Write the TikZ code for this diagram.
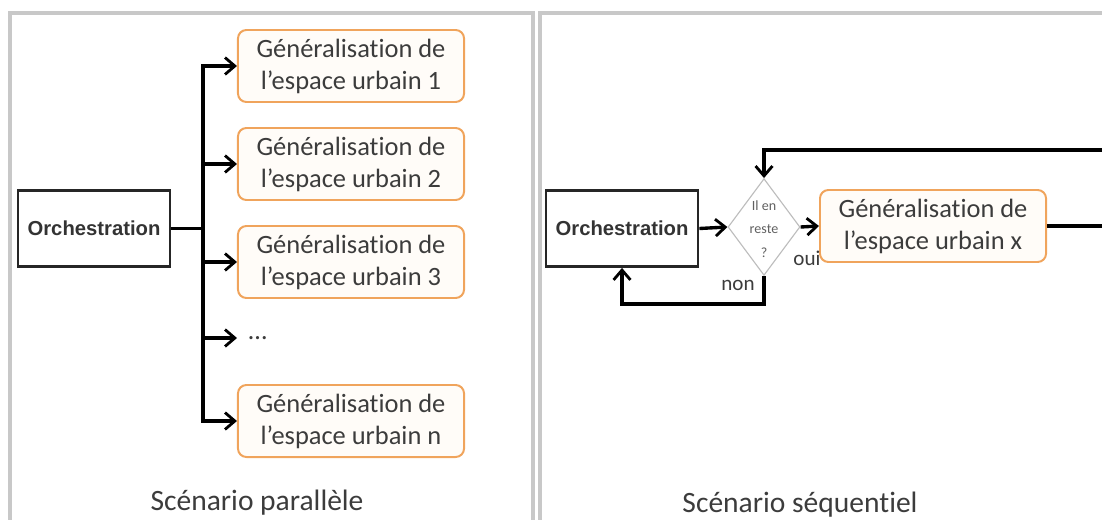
\documentclass[tikz,border=0pt]{standalone}
\usepackage{fontspec}
\setmainfont{Carlito}[Ligatures=NoCommon]
\newfontfamily\arialfont{Liberation Sans}
\usetikzlibrary{arrows.meta,shapes.geometric}

\definecolor{panelgrey}{HTML}{C8C8C8}
\definecolor{boxorange}{HTML}{F0A45C}
\definecolor{boxfill}{HTML}{FFFCF8}
\definecolor{textgrey}{HTML}{3C3C3C}
\definecolor{diagrey}{HTML}{BDBDBD}

\begin{document}
\begin{tikzpicture}[x=0.025cm, y=-0.025cm,
    panel/.style={draw=panelgrey, line width=2.4pt},
    orchbox/.style={draw=black!85, line width=2pt, minimum width=3.8cm,
      minimum height=1.9cm, inner sep=0pt, text=black!80,
      font=\arialfont\bfseries\fontsize{14.4}{17}\selectfont},
    genbox/.style={draw=boxorange, fill=boxfill, line width=1.4pt,
      rounded corners=6pt, minimum width=5.65cm, minimum height=1.8cm,
      inner sep=0pt, align=center, text=textgrey,
      font=\fontsize{18.8}{22.8}\selectfont},
    decision/.style={diamond, draw=diagrey, fill=white, line width=0.8pt,
      inner sep=0pt, minimum width=1.8cm, minimum height=2.42cm},
    flow/.style={line width=2.4pt, black},
    flowarr/.style={flow, -{Straight Barb[length=7pt, width=12pt, line width=2pt]}},
    caption/.style={text=textgrey, font=\fontsize{21}{25}\selectfont},
    small/.style={text=textgrey, font=\fontsize{15}{18}\selectfont, inner sep=0pt}]

  % the page is cut off on the right and at the bottom
  \useasboundingbox (0,0) rectangle (1102,519);
  \clip (0,0) rectangle (1102,519);

  % ---------------------------------------------------------------- panels
  \draw[panel] (10,13) rectangle (533,540);
  \draw[panel] (540,13) rectangle (1130,540);

  % ------------------------------------------------------ parallel scenario
  \node[orchbox] (porch) at (94,228.5) {Orchestration};
  \node[genbox] (gen1) at (351,66)  {Généralisation de\\l’espace urbain 1};
  \node[genbox] (gen2) at (351,164) {Généralisation de\\l’espace urbain 2};
  \node[genbox] (gen3) at (351,262) {Généralisation de\\l’espace urbain 3};
  \node[anchor=west, inner xsep=8pt, text=textgrey,
    font=\fontsize{18.8}{22.8}\selectfont] (gend) at (237,338) {…};
  \node[genbox] (genn) at (351,421) {Généralisation de\\l’espace urbain n};

  % one trunk, a branch to every urban space
  \coordinate (split) at (203,228.5);
  \draw[flow] (porch.east) -- (split);
  \foreach \b in {gen1, gen2, gen3, gend, genn}
    \draw[flowarr] (split) |- (\b.west);

  \node[caption] (capp) at (257,503) {Scénario parallèle};

  % ---------------------------------------------------- sequential scenario
  \node[orchbox] (sorch) at (622,228.5) {Orchestration};
  \node[decision] (dia) at (764,227) {};
  \node[align=center, inner sep=0pt, text=black!62,
    font=\fontsize{10}{16.5}\selectfont] (diatxt) at (764,229) {Il en\\reste\\?};
  \node[genbox] (genx) at (933,226) {Généralisation de\\l’espace urbain x};

  \draw[flowarr] (sorch.east) -- (dia.west);
  \draw[flowarr] (dia.east) -- (genx.west);

  % back to the test once a space is done
  \coordinate (loopr) at (1110,150);
  \draw[flowarr] (genx.east) -| (loopr) -| (dia.north);

  % nothing left: back to the orchestration
  \coordinate (nonc) at (764,304);
  \draw[flowarr] (dia.south) -- (nonc) -| (sorch.south);

  \node[small] (oui) at (807,258) {oui};
  \node[small] (non) at (738,285) {non};

  \node[caption] (caps) at (800,505) {Scénario séquentiel};

\end{tikzpicture}
\end{document}
